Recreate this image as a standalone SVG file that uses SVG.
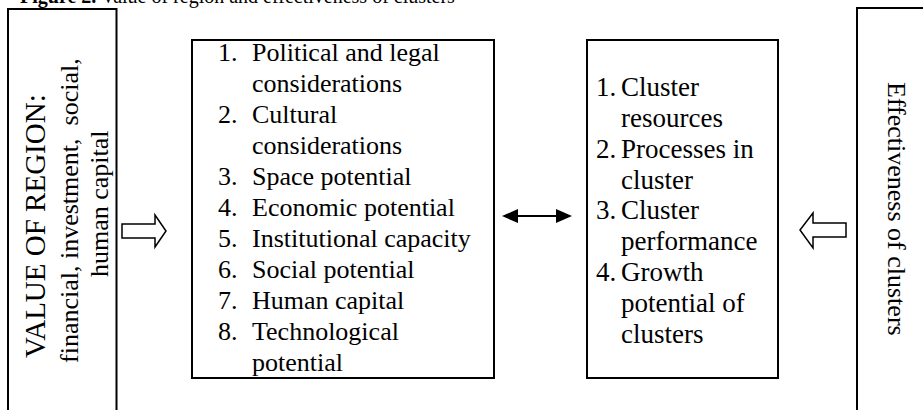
<svg xmlns="http://www.w3.org/2000/svg" width="923" height="410" viewBox="0 0 923 410">
<style>
.box{fill:#fff;stroke:#000;stroke-width:2}
.t{font-family:"Liberation Serif","Times New Roman",serif;font-size:26px;fill:#000}
.t2{font-family:"Liberation Serif","Times New Roman",serif;font-size:27px;fill:#000}
.hollow{fill:#fff;stroke:#000;stroke-width:1.5;stroke-linejoin:miter}
.ln{stroke:#000;stroke-width:2;fill:none}
</style>
<rect width="923" height="410" fill="#fff"/>
<text class="t" x="20" y="3" style="font-size:20px"><tspan font-weight="bold">Figure 2.</tspan> Value of region and effectiveness of clusters</text>

<g id="value-region">
<rect class="box" x="8" y="9" width="108.5" height="420"/>
<text class="t" transform="translate(45,358) rotate(-90)" style="font-size:29px">VALUE OF REGION:</text>
<text class="t" transform="translate(78,363) rotate(-90)" xml:space="preserve">financial, investment,  social,</text>
<text class="t" transform="translate(108,277) rotate(-90)">human capital</text>
</g>

<g id="factors">
<rect class="box" x="192" y="40" width="302" height="338"/>
<text class="t">
<tspan x="218" y="61">1.</tspan><tspan x="252" y="61">Political and legal</tspan>
<tspan x="252" y="92">considerations</tspan>
<tspan x="218" y="123">2.</tspan><tspan x="252" y="123">Cultural</tspan>
<tspan x="252" y="154">considerations</tspan>
<tspan x="218" y="185">3.</tspan><tspan x="252" y="185">Space potential</tspan>
<tspan x="218" y="216">4.</tspan><tspan x="252" y="216">Economic potential</tspan>
<tspan x="218" y="247">5.</tspan><tspan x="252" y="247">Institutional capacity</tspan>
<tspan x="218" y="278">6.</tspan><tspan x="252" y="278">Social potential</tspan>
<tspan x="218" y="309">7.</tspan><tspan x="252" y="309">Human capital</tspan>
<tspan x="218" y="340">8.</tspan><tspan x="252" y="340">Technological</tspan>
<tspan x="252" y="371">potential</tspan>
</text>
</g>

<g id="cluster-items">
<rect class="box" x="587" y="40" width="191" height="338"/>
<text class="t2">
<tspan x="596" y="96">1.</tspan><tspan x="621" y="96">Cluster</tspan>
<tspan x="621" y="127">resources</tspan>
<tspan x="596" y="158">2.</tspan><tspan x="621" y="158">Processes in</tspan>
<tspan x="621" y="189">cluster</tspan>
<tspan x="596" y="219">3.</tspan><tspan x="621" y="219">Cluster</tspan>
<tspan x="621" y="250">performance</tspan>
<tspan x="596" y="281">4.</tspan><tspan x="621" y="281">Growth</tspan>
<tspan x="621" y="312">potential of</tspan>
<tspan x="621" y="343">clusters</tspan>
</text>
</g>

<g id="effectiveness">
<rect class="box" x="857" y="8" width="100" height="420"/>
<text class="t" transform="translate(888,82) rotate(90)">Effectiveness of clusters</text>
</g>

<g id="connectors">
<polygon class="hollow" points="122,224 155,224 155,215 166,231 155,247 155,238 122,238"/>
<polygon class="hollow" points="846,223 813,223 813,213 800,230 813,248 813,237 846,237"/>
<line class="ln" x1="514" y1="216" x2="560" y2="216"/>
<polygon points="502,216 518,209 518,223" fill="#000"/>
<polygon points="572,216 556,209 556,223" fill="#000"/>
</g>
</svg>
